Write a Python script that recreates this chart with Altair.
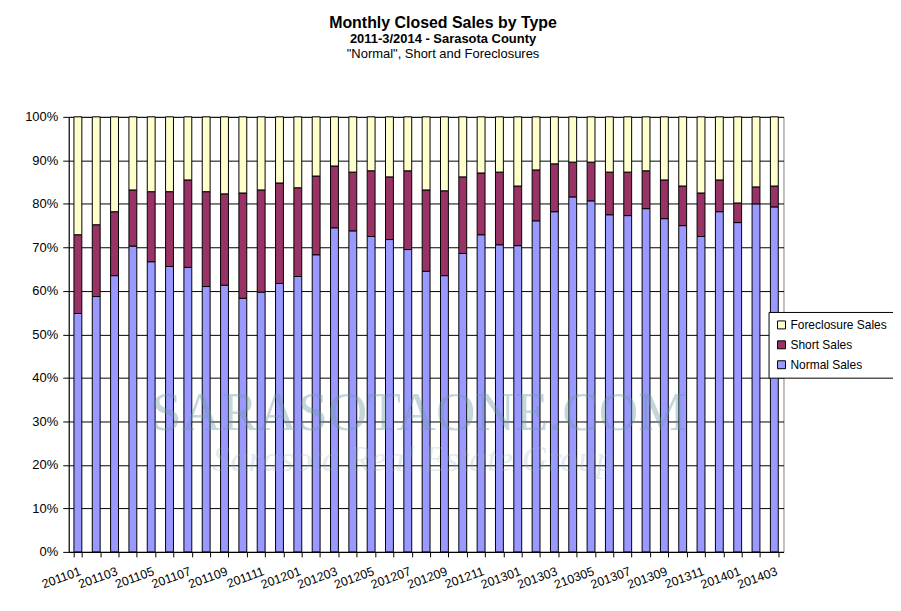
import json
import altair as alt
import pandas as pd

FONT = "Arial, Liberation Sans, sans-serif"

months = [
    "201101", "201102", "201103", "201104", "201105", "201106", "201107", "201108",
    "201109", "201110", "201111", "201112", "201201", "201202", "201203", "201204",
    "201205", "201206", "201207", "201208", "201209", "201210", "201211", "201212",
    "201301", "201302", "201303", "201304", "201305", "201306", "201307", "201308",
    "201309", "201310", "201311", "201312", "201401", "201402", "201403",
]
tick_labels = [
    "201101", "", "201103", "", "201105", "", "201107", "",
    "201109", "", "201111", "", "201201", "", "201203", "",
    "201205", "", "201207", "", "201209", "", "201211", "",
    "201301", "", "201303", "", "210305", "", "201307", "",
    "201309", "", "201311", "", "201401", "", "201403",
]
normal_pct = [
    54.8, 58.7, 63.5, 70.3, 66.7, 65.6, 65.4, 61.0, 61.3, 58.3, 59.7, 61.7, 63.3,
    68.3, 74.5, 73.8, 72.5, 71.8, 69.5, 64.5, 63.5, 68.6, 72.9, 70.6, 70.4, 76.1,
    78.2, 81.6, 80.7, 77.5, 77.3, 78.9, 76.6, 75.0, 72.5, 78.2, 75.7, 80.0, 79.3,
]
short_pct = [
    18.1, 16.5, 14.7, 12.9, 16.1, 17.2, 20.1, 21.8, 21.0, 24.2, 23.5, 23.1, 20.4,
    18.1, 14.2, 13.5, 15.1, 14.4, 18.1, 18.7, 19.5, 17.6, 14.2, 16.7, 13.7, 11.7,
    11.0, 8.0, 8.9, 9.8, 10.0, 8.7, 8.9, 9.1, 10.0, 7.3, 4.5, 3.9, 4.8,
]
foreclosure_pct = [
    27.1, 24.8, 21.8, 16.8, 17.2, 17.2, 14.5, 17.2, 17.7, 17.5, 16.8, 15.2, 16.3,
    13.6, 11.3, 12.7, 12.4, 13.8, 12.4, 16.8, 17.0, 13.8, 12.9, 12.7, 15.9, 12.2,
    10.8, 10.4, 10.4, 12.7, 12.7, 12.4, 14.5, 15.9, 17.5, 14.5, 19.8, 16.1, 15.9,
]
series_names = ["Normal Sales", "Short Sales", "Foreclosure Sales"]
legend_order = ["Foreclosure Sales", "Short Sales", "Normal Sales"]
series_colors = ["#FFFFCC", "#993366", "#9999FF"]

rows = []
for i, m in enumerate(months):
    for k, (name, vals) in enumerate(zip(series_names, [normal_pct, short_pct, foreclosure_pct])):
        rows.append({"month": m, "type": name, "pct": vals[i], "stackorder": k})
df = pd.DataFrame(rows)

label_expr = f"{json.dumps(tick_labels)}[indexof({json.dumps(months)}, datum.value)]"

W, H = 718, 437

bars = alt.Chart(df).mark_bar(stroke="black", strokeWidth=1).encode(
    x=alt.X(
        "month:N", sort=months, title=None,
        scale=alt.Scale(paddingInner=0.57, paddingOuter=0.285),
        axis=alt.Axis(
            labelExpr=label_expr, labelAngle=-20, labelAlign="right", labelBaseline="top",
            labelOverlap=False, tickBand="extent", tickSize=5, tickColor="black",
            domainColor="black", labelFontSize=12.5, labelColor="black", labelPadding=8,
            labelFont=FONT, grid=False,
        ),
    ),
    y=alt.Y(
        "pct:Q", stack="normalize", title=None,
        scale=alt.Scale(domain=[0, 1]),
        axis=alt.Axis(
            format=".0%", values=[i / 10 for i in range(11)], grid=True, gridColor="black",
            gridWidth=1, tickSize=6, tickColor="black", domainColor="black",
            labelFontSize=13, labelColor="black", labelPadding=5, labelFont=FONT,
        ),
    ),
    color=alt.Color(
        "type:N",
        scale=alt.Scale(domain=legend_order, range=series_colors),
        legend=alt.Legend(
            title=None, orient="none", legendX=703, legendY=196, strokeColor="black",
            fillColor="white", padding=7, symbolType="square", symbolSize=64,
            symbolStrokeColor="black", symbolStrokeWidth=1, labelFontSize=12,
            labelFont=FONT, labelColor="black", rowPadding=8, labelOffset=3,
        ),
    ),
    order=alt.Order("stackorder:Q"),
)

wm = pd.DataFrame({"t": ["SARASOTAONE.COM"], "s": ["Sarasota Real Estate Group"]})
wm1 = alt.Chart(wm).mark_text(
    font="Liberation Serif", fontSize=55, color="#6f9aa6", opacity=0.4,
    align="center", baseline="alphabetic",
).encode(x=alt.value(352), y=alt.value(315), text="t:N")
wm2 = alt.Chart(wm).mark_text(
    font="Liberation Serif", fontSize=36, fontStyle="italic", color="#8fb5bd", opacity=0.25,
    align="center", baseline="alphabetic",
).encode(x=alt.value(346), y=alt.value(356), text="s:N")

line3 = alt.Chart(pd.DataFrame({"t": ['"Normal", Short and Foreclosures']})).mark_text(
    font=FONT, fontSize=13, color="black", align="center", baseline="alphabetic",
).encode(x=alt.value(W / 2 + 17), y=alt.value(-59), text="t:N")

chart = alt.layer(bars, wm1, wm2, line3).properties(
    width=W, height=H,
    title=alt.TitleParams(
        text="Monthly Closed Sales by Type",
        subtitle="2011-3/2014  - Sarasota County",
        font=FONT, fontSize=16, fontWeight="bold", color="black",
        subtitleFont=FONT, subtitleFontSize=13, subtitleFontWeight="bold",
        subtitleColor="black", subtitlePadding=2, anchor="middle", dx=17, offset=2,
    ),
    autosize=alt.AutoSizeParams(type="none"),
    padding={"left": 61, "top": 108, "right": 110, "bottom": 50},
    background="white",
).configure_view(stroke="#808080", strokeWidth=1)

chart.save("out.html", embed_options={"renderer": "svg", "actions": False})
